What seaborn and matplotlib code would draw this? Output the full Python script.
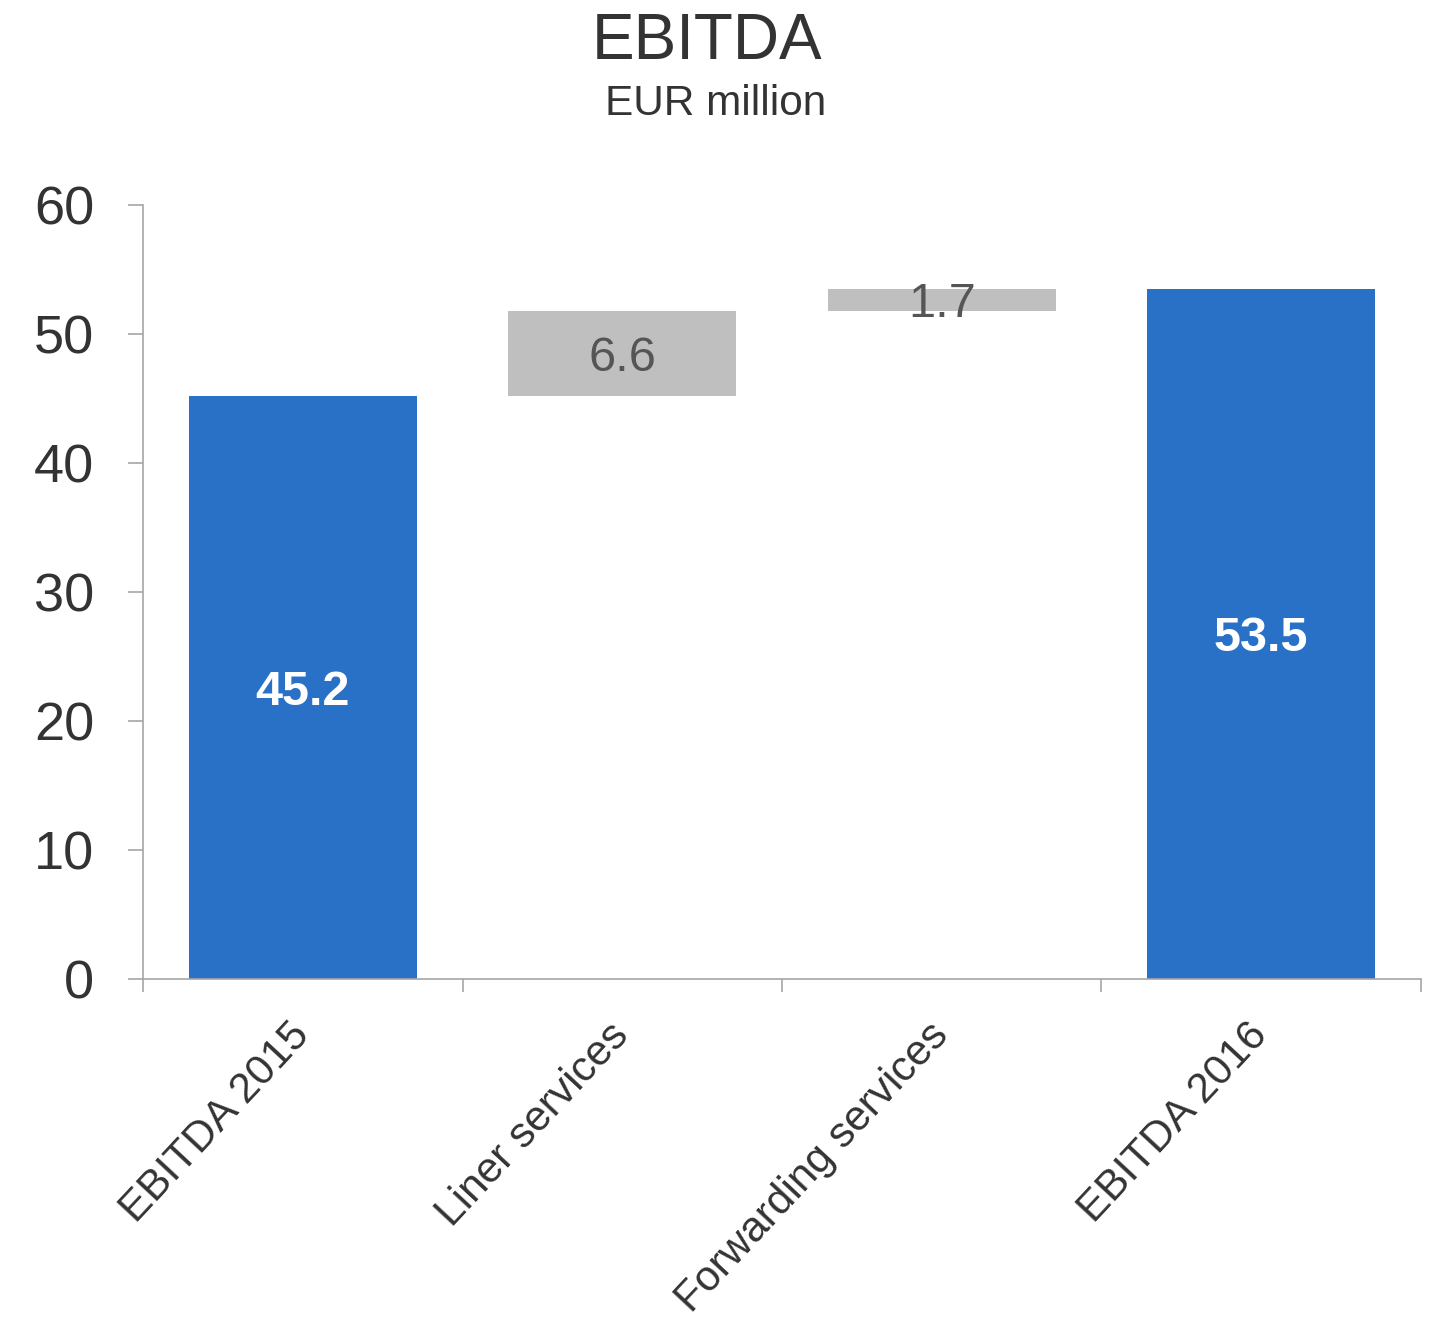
import matplotlib
matplotlib.use("Agg")
import matplotlib.pyplot as plt
import seaborn as sns
import pandas as pd
import numpy as np

# Waterfall data (EUR million)
categories = ["EBITDA 2015", "Liner services", "Forwarding services", "EBITDA 2016"]
values = [45.2, 6.6, 1.7, 53.5]
is_total = [True, False, False, True]
value_labels = ["45.2", "6.6", "1.7", "53.5"]
y_ticks = [0, 10, 20, 30, 40, 50, 60]

BLUE = "#2971C7"
GREY = "#BFBFBF"
TEXT = "#333333"
AXIS = "#A6A6A6"

# bar bases: totals start at zero, changes start at the running total
bottoms = []
running = 0.0
for v, tot in zip(values, is_total):
    if tot:
        bottoms.append(0.0)
        running = v
    else:
        bottoms.append(running)
        running += v

df = pd.DataFrame({"category": categories, "value": values})
colors = [BLUE if t else GREY for t in is_total]

sns.set_theme(style="white")
plt.rcParams["font.family"] = ["Liberation Sans", "DejaVu Sans"]

fig = plt.figure(figsize=(14.33, 13.27), dpi=100)
ax = fig.add_axes([0.0998, 0.2622, 0.8918, 0.5833])

sns.barplot(data=df, x="category", y="value", hue="category",
            palette=colors, legend=False, width=0.714, saturation=1,
            edgecolor="none", linewidth=0, ax=ax)

# lift the change bars onto the running total
for patch, b in zip(ax.patches, bottoms):
    patch.set_y(b)

for i, (v, b, tot, lab) in enumerate(zip(values, bottoms, is_total, value_labels)):
    ax.text(i, b + v / 2, lab, ha="center", va="center_baseline",
            fontsize=35, fontweight="bold" if tot else "normal",
            color="white" if tot else "#555555")

ax.set_xlim(-0.5, len(categories) - 0.5)
ax.set_ylim(0, 60)
ax.set_yticks(y_ticks)
ax.set_yticklabels([str(t) for t in y_ticks])
ax.set_xlabel("")
ax.set_ylabel("")

ax.set_xticks(range(len(categories)))
ax.set_xticklabels(categories, rotation=47, ha="right", va="center",
                   rotation_mode="anchor")
ax.set_xticks(np.arange(-0.5, len(categories), 1.0), minor=True)
ax.tick_params(axis="x", which="major", length=0, pad=36, labelsize=30.5,
               labelcolor=TEXT)
ax.tick_params(axis="x", which="minor", length=9.5, width=1.2, color=AXIS,
               direction="out", bottom=True)
ax.tick_params(axis="y", which="major", length=11, width=1.2, color=AXIS,
               direction="out", left=True, labelsize=39, labelcolor=TEXT, pad=24)

for side in ["top", "right"]:
    ax.spines[side].set_visible(False)
for side in ["left", "bottom"]:
    ax.spines[side].set_color(AXIS)
    ax.spines[side].set_linewidth(1.2)

fig.text(0.4935, 0.968, "EBITDA", ha="center", va="center",
         fontsize=46, color=TEXT)
fig.text(0.4995, 0.9215, "EUR million", ha="center", va="center",
         fontsize=30.5, color=TEXT)

fig.savefig("out.png", dpi=100, facecolor="white")
